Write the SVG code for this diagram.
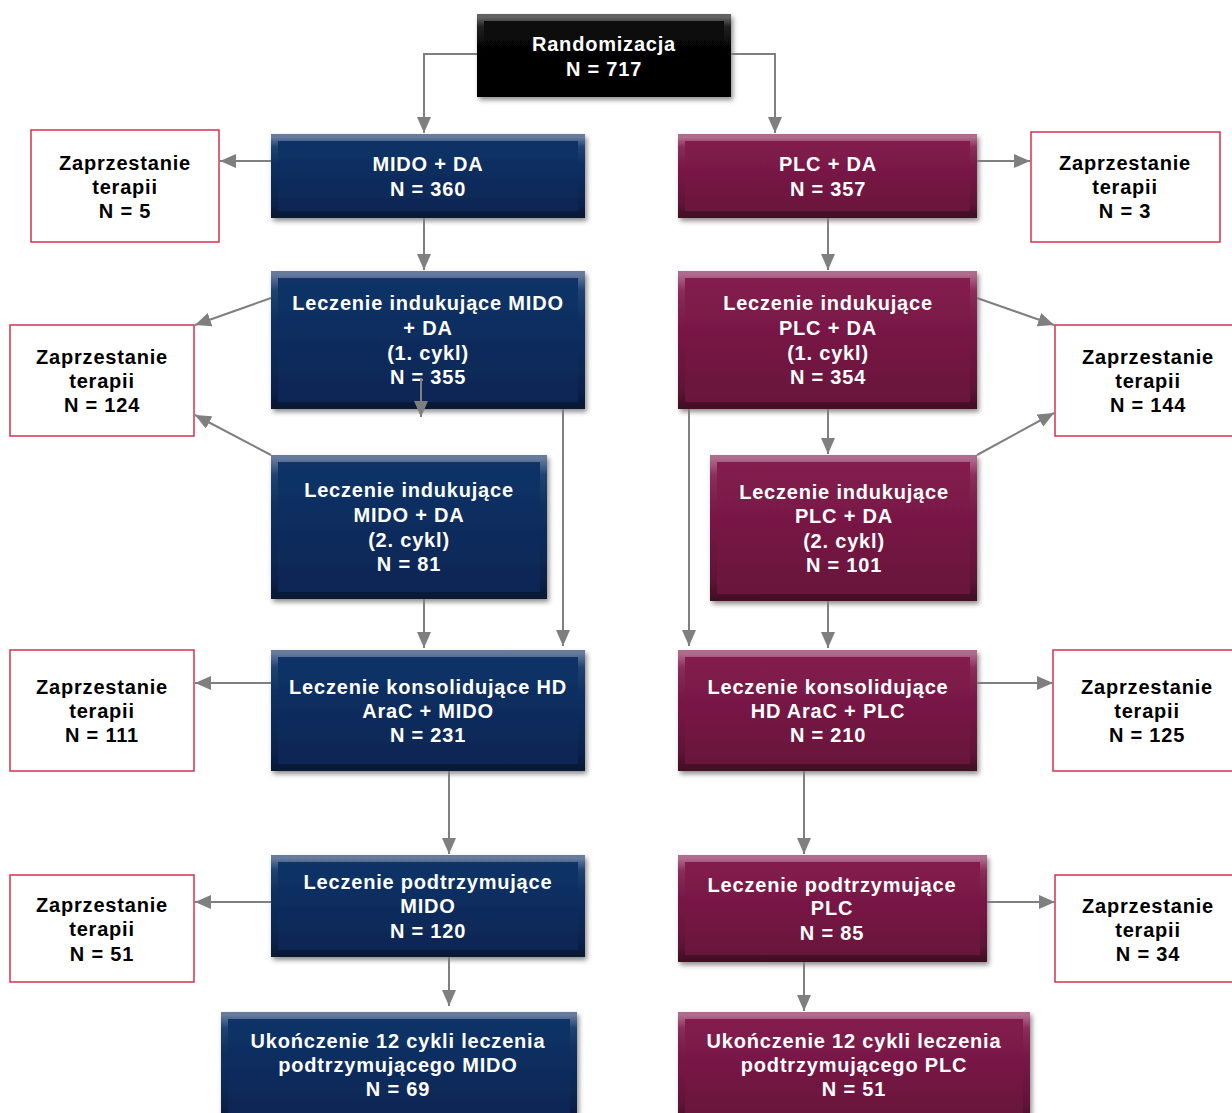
<svg xmlns="http://www.w3.org/2000/svg" width="1232" height="1113" viewBox="0 0 1232 1113">
  <defs>
    <style>
      .t { font-family: "Liberation Sans", Arial, sans-serif; font-weight: bold; font-size: 20px; letter-spacing: 0.8px; text-anchor: middle; }
      .w { fill: #ffffff; }
      .k { fill: #000000; }
      .stop { fill: #ffffff; stroke: #d8304f; stroke-width: 1.5; }
      .bev { fill: none; stroke: url(#bevel); stroke-width: 7; }
      .con { fill: none; stroke: #7f7f7f; stroke-width: 2; }
      .blue { fill: url(#gBlue); }
      .plum { fill: url(#gPlum); }
      .black { fill: url(#gBlack); }
    </style>
    <linearGradient id="gBlue" x1="0" y1="0" x2="0" y2="1">
      <stop offset="0" stop-color="#123469"/>
      <stop offset="1" stop-color="#0a2552"/>
    </linearGradient>
    <linearGradient id="gPlum" x1="0" y1="0" x2="0" y2="1">
      <stop offset="0" stop-color="#861c50"/>
      <stop offset="1" stop-color="#661539"/>
    </linearGradient>
    <linearGradient id="gBlack" x1="0" y1="0" x2="0" y2="1">
      <stop offset="0" stop-color="#0a0a0a"/>
      <stop offset="1" stop-color="#000000"/>
    </linearGradient>
    <linearGradient id="bevel" x1="0" y1="0" x2="0" y2="1">
      <stop offset="0" stop-color="#ffffff" stop-opacity="0.35"/>
      <stop offset="0.12" stop-color="#ffffff" stop-opacity="0.08"/>
      <stop offset="0.5" stop-color="#000000" stop-opacity="0"/>
      <stop offset="0.88" stop-color="#000000" stop-opacity="0.12"/>
      <stop offset="1" stop-color="#000000" stop-opacity="0.35"/>
    </linearGradient>
    <filter id="shadow" x="-10%" y="-10%" width="125%" height="130%">
      <feDropShadow dx="2" dy="3" stdDeviation="2.5" flood-color="#000000" flood-opacity="0.45"/>
    </filter>
    <marker id="ah" viewBox="0 0 16 14" refX="16" refY="7" markerWidth="16" markerHeight="14" orient="auto" markerUnits="userSpaceOnUse">
      <path d="M0,0 L16,7 L0,14 Z" fill="#7f7f7f"/>
    </marker>
  </defs>

  <!-- randomisation -->
  <g id="randomizacja">
    <rect class="black" x="477" y="14" width="254" height="83" filter="url(#shadow)"/>
    <rect class="bev" x="480.5" y="17.5" width="247" height="76"/>
    <text class="t w" x="604" y="51">Randomizacja</text>
    <text class="t w" x="604" y="76">N = 717</text>
  </g>

  <!-- MIDO arm -->
  <g id="mido-da">
    <rect class="blue" x="271" y="134" width="314" height="84" filter="url(#shadow)"/>
    <rect class="bev" x="274.5" y="137.5" width="307" height="77"/>
    <text class="t w" x="428" y="171">MIDO + DA</text>
    <text class="t w" x="428" y="196">N = 360</text>
  </g>
  <g id="mido-induction-1">
    <rect class="blue" x="271" y="271" width="314" height="138" filter="url(#shadow)"/>
    <rect class="bev" x="274.5" y="274.5" width="307" height="131"/>
    <text class="t w" x="428" y="310">Leczenie indukujące MIDO</text>
    <text class="t w" x="428" y="335">+ DA</text>
    <text class="t w" x="428" y="360">(1. cykl)</text>
    <text class="t w" x="428" y="384">N = 355</text>
  </g>
  <g id="mido-induction-2">
    <rect class="blue" x="271" y="455" width="276" height="144" filter="url(#shadow)"/>
    <rect class="bev" x="274.5" y="458.5" width="269" height="137"/>
    <text class="t w" x="409" y="497">Leczenie indukujące</text>
    <text class="t w" x="409" y="522">MIDO + DA</text>
    <text class="t w" x="409" y="547">(2. cykl)</text>
    <text class="t w" x="409" y="571">N = 81</text>
  </g>
  <g id="mido-consolidation">
    <rect class="blue" x="271" y="650" width="314" height="121" filter="url(#shadow)"/>
    <rect class="bev" x="274.5" y="653.5" width="307" height="114"/>
    <text class="t w" x="428" y="694">Leczenie konsolidujące HD</text>
    <text class="t w" x="428" y="718">AraC + MIDO</text>
    <text class="t w" x="428" y="742">N = 231</text>
  </g>
  <g id="mido-maintenance">
    <rect class="blue" x="271" y="855" width="314" height="102" filter="url(#shadow)"/>
    <rect class="bev" x="274.5" y="858.5" width="307" height="95"/>
    <text class="t w" x="428" y="889">Leczenie podtrzymujące</text>
    <text class="t w" x="428" y="913">MIDO</text>
    <text class="t w" x="428" y="938">N = 120</text>
  </g>
  <g id="mido-completed">
    <rect class="blue" x="221" y="1012" width="356" height="110" filter="url(#shadow)"/>
    <rect class="bev" x="224.5" y="1015.5" width="349" height="103"/>
    <text class="t w" x="398" y="1048">Ukończenie 12 cykli leczenia</text>
    <text class="t w" x="398" y="1072">podtrzymującego MIDO</text>
    <text class="t w" x="398" y="1096">N = 69</text>
  </g>

  <!-- PLC arm -->
  <g id="plc-da">
    <rect class="plum" x="678" y="134" width="299" height="84" filter="url(#shadow)"/>
    <rect class="bev" x="681.5" y="137.5" width="292" height="77"/>
    <text class="t w" x="828" y="171">PLC + DA</text>
    <text class="t w" x="828" y="196">N = 357</text>
  </g>
  <g id="plc-induction-1">
    <rect class="plum" x="678" y="271" width="299" height="138" filter="url(#shadow)"/>
    <rect class="bev" x="681.5" y="274.5" width="292" height="131"/>
    <text class="t w" x="828" y="310">Leczenie indukujące</text>
    <text class="t w" x="828" y="335">PLC + DA</text>
    <text class="t w" x="828" y="360">(1. cykl)</text>
    <text class="t w" x="828" y="384">N = 354</text>
  </g>
  <g id="plc-induction-2">
    <rect class="plum" x="710" y="455" width="267" height="146" filter="url(#shadow)"/>
    <rect class="bev" x="713.5" y="458.5" width="260" height="139"/>
    <text class="t w" x="844" y="499">Leczenie indukujące</text>
    <text class="t w" x="844" y="523">PLC + DA</text>
    <text class="t w" x="844" y="548">(2. cykl)</text>
    <text class="t w" x="844" y="572">N = 101</text>
  </g>
  <g id="plc-consolidation">
    <rect class="plum" x="678" y="650" width="299" height="121" filter="url(#shadow)"/>
    <rect class="bev" x="681.5" y="653.5" width="292" height="114"/>
    <text class="t w" x="828" y="694">Leczenie konsolidujące</text>
    <text class="t w" x="828" y="718">HD AraC + PLC</text>
    <text class="t w" x="828" y="742">N = 210</text>
  </g>
  <g id="plc-maintenance">
    <rect class="plum" x="678" y="855" width="309" height="107" filter="url(#shadow)"/>
    <rect class="bev" x="681.5" y="858.5" width="302" height="100"/>
    <text class="t w" x="832" y="892">Leczenie podtrzymujące</text>
    <text class="t w" x="832" y="915">PLC</text>
    <text class="t w" x="832" y="940">N = 85</text>
  </g>
  <g id="plc-completed">
    <rect class="plum" x="678" y="1012" width="352" height="110" filter="url(#shadow)"/>
    <rect class="bev" x="681.5" y="1015.5" width="345" height="103"/>
    <text class="t w" x="854" y="1048">Ukończenie 12 cykli leczenia</text>
    <text class="t w" x="854" y="1072">podtrzymującego PLC</text>
    <text class="t w" x="854" y="1096">N = 51</text>
  </g>

  <!-- discontinuation boxes -->
  <g id="stop-mido-1">
    <rect class="stop" x="31" y="130" width="188" height="112"/>
    <text class="t k" x="125" y="170">Zaprzestanie</text>
    <text class="t k" x="125" y="194">terapii</text>
    <text class="t k" x="125" y="218">N = 5</text>
  </g>
  <g id="stop-plc-1">
    <rect class="stop" x="1031" y="132" width="189" height="110"/>
    <text class="t k" x="1125" y="170">Zaprzestanie</text>
    <text class="t k" x="1125" y="194">terapii</text>
    <text class="t k" x="1125" y="218">N = 3</text>
  </g>
  <g id="stop-mido-2">
    <rect class="stop" x="10" y="325" width="184" height="111"/>
    <text class="t k" x="102" y="364">Zaprzestanie</text>
    <text class="t k" x="102" y="388">terapii</text>
    <text class="t k" x="102" y="412">N = 124</text>
  </g>
  <g id="stop-plc-2">
    <rect class="stop" x="1055" y="325" width="180" height="111"/>
    <text class="t k" x="1148" y="364">Zaprzestanie</text>
    <text class="t k" x="1148" y="388">terapii</text>
    <text class="t k" x="1148" y="412">N = 144</text>
  </g>
  <g id="stop-mido-3">
    <rect class="stop" x="10" y="650" width="184" height="121"/>
    <text class="t k" x="102" y="694">Zaprzestanie</text>
    <text class="t k" x="102" y="718">terapii</text>
    <text class="t k" x="102" y="742">N = 111</text>
  </g>
  <g id="stop-plc-3">
    <rect class="stop" x="1053" y="650" width="182" height="121"/>
    <text class="t k" x="1147" y="694">Zaprzestanie</text>
    <text class="t k" x="1147" y="718">terapii</text>
    <text class="t k" x="1147" y="742">N = 125</text>
  </g>
  <g id="stop-mido-4">
    <rect class="stop" x="10" y="875" width="184" height="107"/>
    <text class="t k" x="102" y="912">Zaprzestanie</text>
    <text class="t k" x="102" y="936">terapii</text>
    <text class="t k" x="102" y="961">N = 51</text>
  </g>
  <g id="stop-plc-4">
    <rect class="stop" x="1055" y="875" width="180" height="107"/>
    <text class="t k" x="1148" y="913">Zaprzestanie</text>
    <text class="t k" x="1148" y="937">terapii</text>
    <text class="t k" x="1148" y="961">N = 34</text>
  </g>

  <!-- connectors, drawn over the boxes -->
  <g id="connectors">
    <path class="con" d="M477,54 H424 V133" marker-end="url(#ah)"/>
    <path class="con" d="M731,54 H775 V133" marker-end="url(#ah)"/>
    <path class="con" d="M271,161 H220" marker-end="url(#ah)"/>
    <path class="con" d="M977,161 H1030" marker-end="url(#ah)"/>
    <path class="con" d="M424,218 V270" marker-end="url(#ah)"/>
    <path class="con" d="M828,218 V270" marker-end="url(#ah)"/>
    <path class="con" d="M271,298 L195,325" marker-end="url(#ah)"/>
    <path class="con" d="M271,455 L195,415" marker-end="url(#ah)"/>
    <path class="con" d="M421,378 V417" marker-end="url(#ah)"/>
    <path class="con" d="M563,409 V646" marker-end="url(#ah)"/>
    <path class="con" d="M424,599 V648" marker-end="url(#ah)"/>
    <path class="con" d="M977,298 L1054,325" marker-end="url(#ah)"/>
    <path class="con" d="M977,455 L1054,413" marker-end="url(#ah)"/>
    <path class="con" d="M828,409 V454" marker-end="url(#ah)"/>
    <path class="con" d="M689,409 V646" marker-end="url(#ah)"/>
    <path class="con" d="M828,601 V648" marker-end="url(#ah)"/>
    <path class="con" d="M271,683 H195" marker-end="url(#ah)"/>
    <path class="con" d="M977,683 H1053" marker-end="url(#ah)"/>
    <path class="con" d="M449,771 V854" marker-end="url(#ah)"/>
    <path class="con" d="M804,771 V854" marker-end="url(#ah)"/>
    <path class="con" d="M271,902 H195" marker-end="url(#ah)"/>
    <path class="con" d="M987,902 H1055" marker-end="url(#ah)"/>
    <path class="con" d="M449,957 V1006" marker-end="url(#ah)"/>
    <path class="con" d="M804,962 V1011" marker-end="url(#ah)"/>
  </g>
</svg>
